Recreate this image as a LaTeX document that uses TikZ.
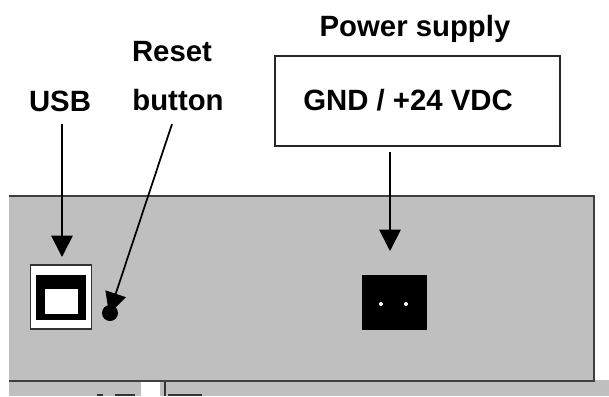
\documentclass[tikz,border=0pt]{standalone}
\usepackage{fontspec}
\setmainfont{Liberation Sans}
\usetikzlibrary{arrows.meta,positioning}
\definecolor{panelgray}{gray}{0.75}
\tikzset{
  label/.style={font=\fontsize{22}{22}\selectfont\bfseries, inner sep=0pt},
  pointer/.style={line width=1.3pt, -{Triangle[width=16pt,length=16pt]}},
}
\begin{document}
\begin{tikzpicture}[x=0.75pt,y=-0.75pt]
  \useasboundingbox (0,0) rectangle (609,396);
  % bottom strip
  \fill[panelgray] (9,380) rectangle (609,396);
  \fill[white] (141,382) rectangle (160,396);
  \draw[black!80, line width=1pt] (165,381) -- (165,396);
  % tops of cut-off letters
  \fill[black!80] (97,394) rectangle (103,396);
  \fill[black!80] (115,394) rectangle (135,396);
  \fill[black!80] (168,394) rectangle (202,396);
  % panel
  \fill[panelgray] (9,196) rectangle (594,381);
  \draw[black!75, line width=1.4pt] (9,196) -- (594,196) -- (594,381) -- (9,381);
  % USB port
  \node[draw=black!80, fill=white, line width=1.2pt, minimum width=46pt, minimum height=48pt, inner sep=0pt] (usbport) at (61,297) {};
  \node[fill=black, minimum width=37.5pt, minimum height=34pt, inner sep=0pt] (usbin) at (61,297.5) {};
  \node[fill=white, minimum width=25pt, minimum height=19pt, inner sep=0pt] (usbhole) at (61.5,301.5) {};
  % reset button
  \node[circle, fill=black, minimum size=12pt, inner sep=0pt] (resetbtn) at (110,313) {};
  % power connector
  \node[fill=black, minimum width=49pt, minimum height=41pt, inner sep=0pt] (plug) at (394.5,302.5) {};
  \node[circle, fill=white, minimum size=3pt, inner sep=0pt] (pinA) at (381,304) {};
  \node[circle, fill=white, minimum size=3pt, inner sep=0pt] (pinB) at (406,304) {};
  % power box
  \node[draw=black!85, fill=white, line width=1.3pt, minimum width=214pt, minimum height=68pt, inner sep=0pt] (psubox) at (417.5,101) {};
  % labels
  \node[label] (psu) at (415,29) {Power supply};
  \node[label] (gnd) at (408,100) {GND / +24 VDC};
  \node[label] (reset) at (172,52) {Reset};
  \node[label] (button) at (178,100) {button};
  \node[label] (usb) at (60,101) {USB};
  % arrows
  \coordinate (usbstart) at (62,124);
  \coordinate (usbend) at (62,257);
  \coordinate (resetstart) at (172,124);
  \coordinate (resetend) at (109,314);
  \coordinate (psustart) at (390,152);
  \coordinate (psuend) at (390,251);
  \draw[pointer] (usbstart) -- (usbend);
  \draw[pointer] (resetstart) -- (resetend);
  \draw[pointer] (psustart) -- (psuend);
\end{tikzpicture}
\end{document}
